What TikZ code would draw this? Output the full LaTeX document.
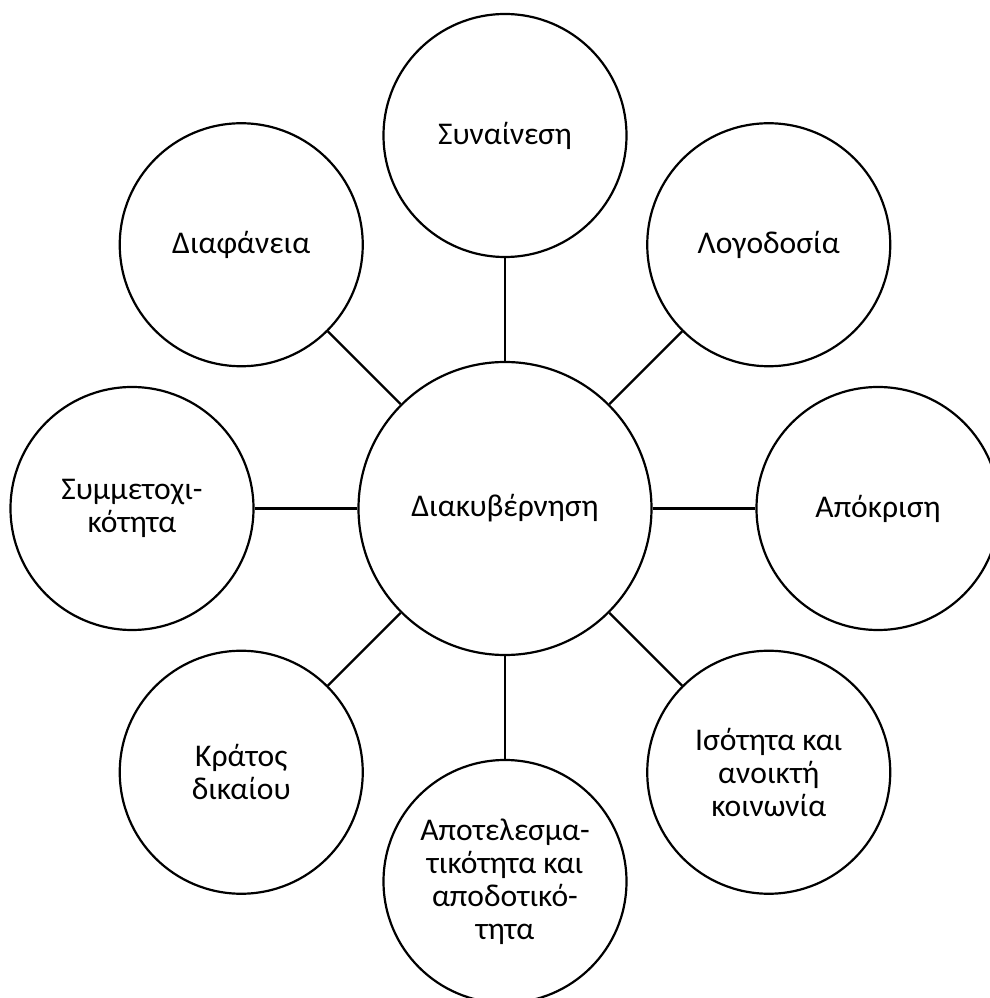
\documentclass[tikz,border=0pt]{standalone}
\usepackage{fontspec}
\setmainfont{Carlito}
\usetikzlibrary{calc}
\begin{document}
\begin{tikzpicture}[x=0.5pt,y=0.5pt,
    petal/.style={draw,circle,line width=1.1pt,minimum size=121.5pt,inner sep=0pt,
      align=center,font=\fontsize{15.8}{16.5}\selectfont},
    hub/.style={petal,minimum size=146.5pt}]
      \useasboundingbox (0,0) rectangle (990,998);
      \node[hub] (gov) at (505,489.5) {Διακυβέρνηση};
      \def \Petals{
        cons/90/{Συναίνεση},
        acc/45/{Λογοδοσία},
        resp/0/{Απόκριση},
        equal/-45/{Ισότητα και\\ανοικτή\\κοινωνία},
        eff/-90/{Αποτελεσμα-\\τικότητα και\\αποδοτικό-\\τητα},
        law/-135/{Κράτος\\δικαίου},
        part/180/{Συμμετοχι-\\κότητα},
        transp/135/{Διαφάνεια}}
      \foreach \id / \a / \t in \Petals{
        \node[petal] (\id) at ($(gov)+(\a:373)$) {\t};
        \path[draw,-,line width=1.1pt] (gov) -- (\id);
      }
    \end{tikzpicture}
\end{document}
